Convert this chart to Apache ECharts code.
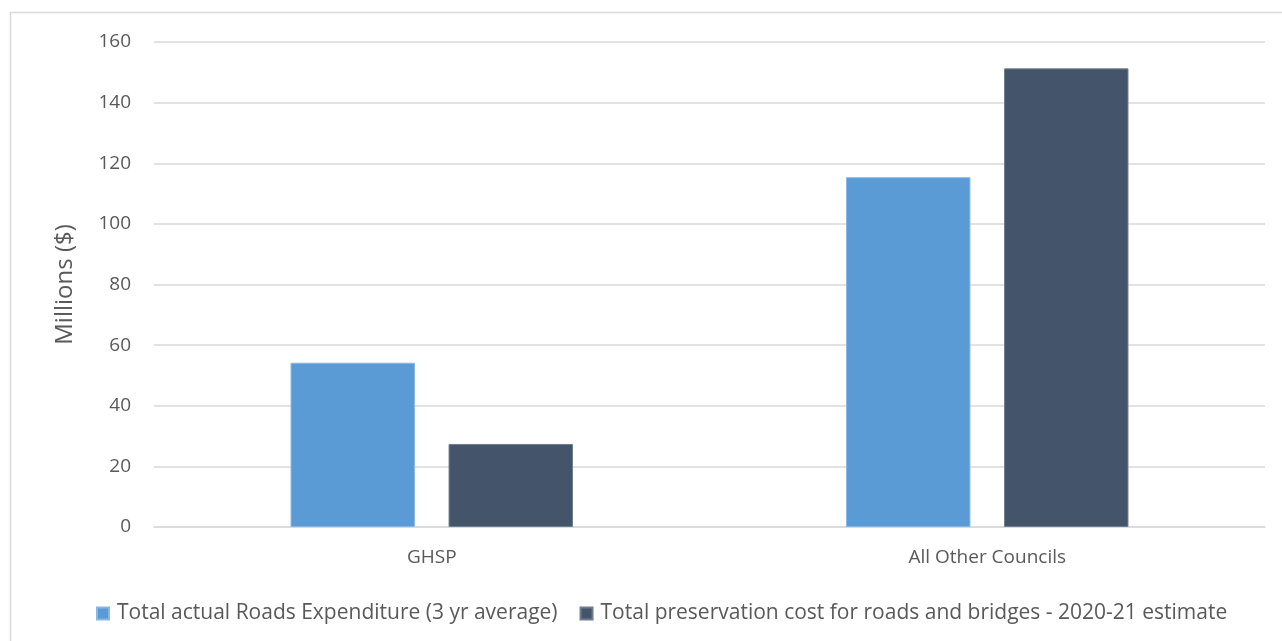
<!DOCTYPE html>
<html>
<head>
<meta charset="utf-8">
<script src="https://cdn.jsdelivr.net/npm/echarts@6/dist/echarts.min.js"></script>
<style>
  html, body { margin: 0; padding: 0; background: #fff; }
  #chart { width: 1282px; height: 641px; }
</style>
</head>
<body>
<div id="chart"></div>
<script>
// chart data
const categories = ["GHSP", "All Other Councils"];
const roadsExpenditure = [54.2, 115.4];
const preservationCost = [27.4, 151.3];
const seriesNames = [
  "Total actual Roads Expenditure (3 yr average)",
  "Total preservation cost for roads and bridges - 2020-21 estimate"
];

const font = "'Open Sans', sans-serif";
const textColor = "#595959";

const chart = echarts.init(document.getElementById("chart"));
chart.setOption({
  animation: false,
  graphic: [{
    type: "rect",
    shape: { x: 10.5, y: 12.5, width: 1290, height: 650 },
    style: { fill: "none", stroke: "#d9d9d9", lineWidth: 1.5 }
  }],
  grid: { left: 154, right: 17, top: 42, bottom: 114 },
  legend: {
    left: 91,
    bottom: 12,
    itemWidth: 12,
    itemHeight: 12,
    itemGap: 22,
    icon: "rect",
    textStyle: { fontFamily: font, fontSize: 21, color: textColor, padding: [0, 0, 0, 3] },
    data: seriesNames
  },
  xAxis: {
    type: "category",
    data: categories,
    axisTick: { show: false },
    axisLine: { lineStyle: { color: "#d9d9d9", width: 1.5 } },
    axisLabel: { fontFamily: font, fontSize: 19, color: textColor, margin: 21 }
  },
  yAxis: {
    type: "value",
    min: 0,
    max: 160,
    interval: 20,
    name: "Millions ($)",
    nameLocation: "middle",
    nameGap: 77,
    nameTextStyle: { fontFamily: font, fontSize: 24, color: textColor },
    axisLine: { show: false },
    axisTick: { show: false },
    splitLine: { lineStyle: { color: "#d9d9d9", width: 1.5 } },
    axisLabel: { fontFamily: font, fontSize: 19, color: textColor, margin: 23 }
  },
  series: [
    {
      name: seriesNames[0],
      type: "bar",
      data: roadsExpenditure,
      barWidth: "22.4%",
      barGap: "27%",
      itemStyle: { color: "#5b9bd5", borderColor: "#8ab8e4", borderWidth: 1 }
    },
    {
      name: seriesNames[1],
      type: "bar",
      data: preservationCost,
      barWidth: "22.4%",
      itemStyle: { color: "#44546a", borderColor: "#6f7d91", borderWidth: 1 }
    }
  ]
});
</script>
</body>
</html>
